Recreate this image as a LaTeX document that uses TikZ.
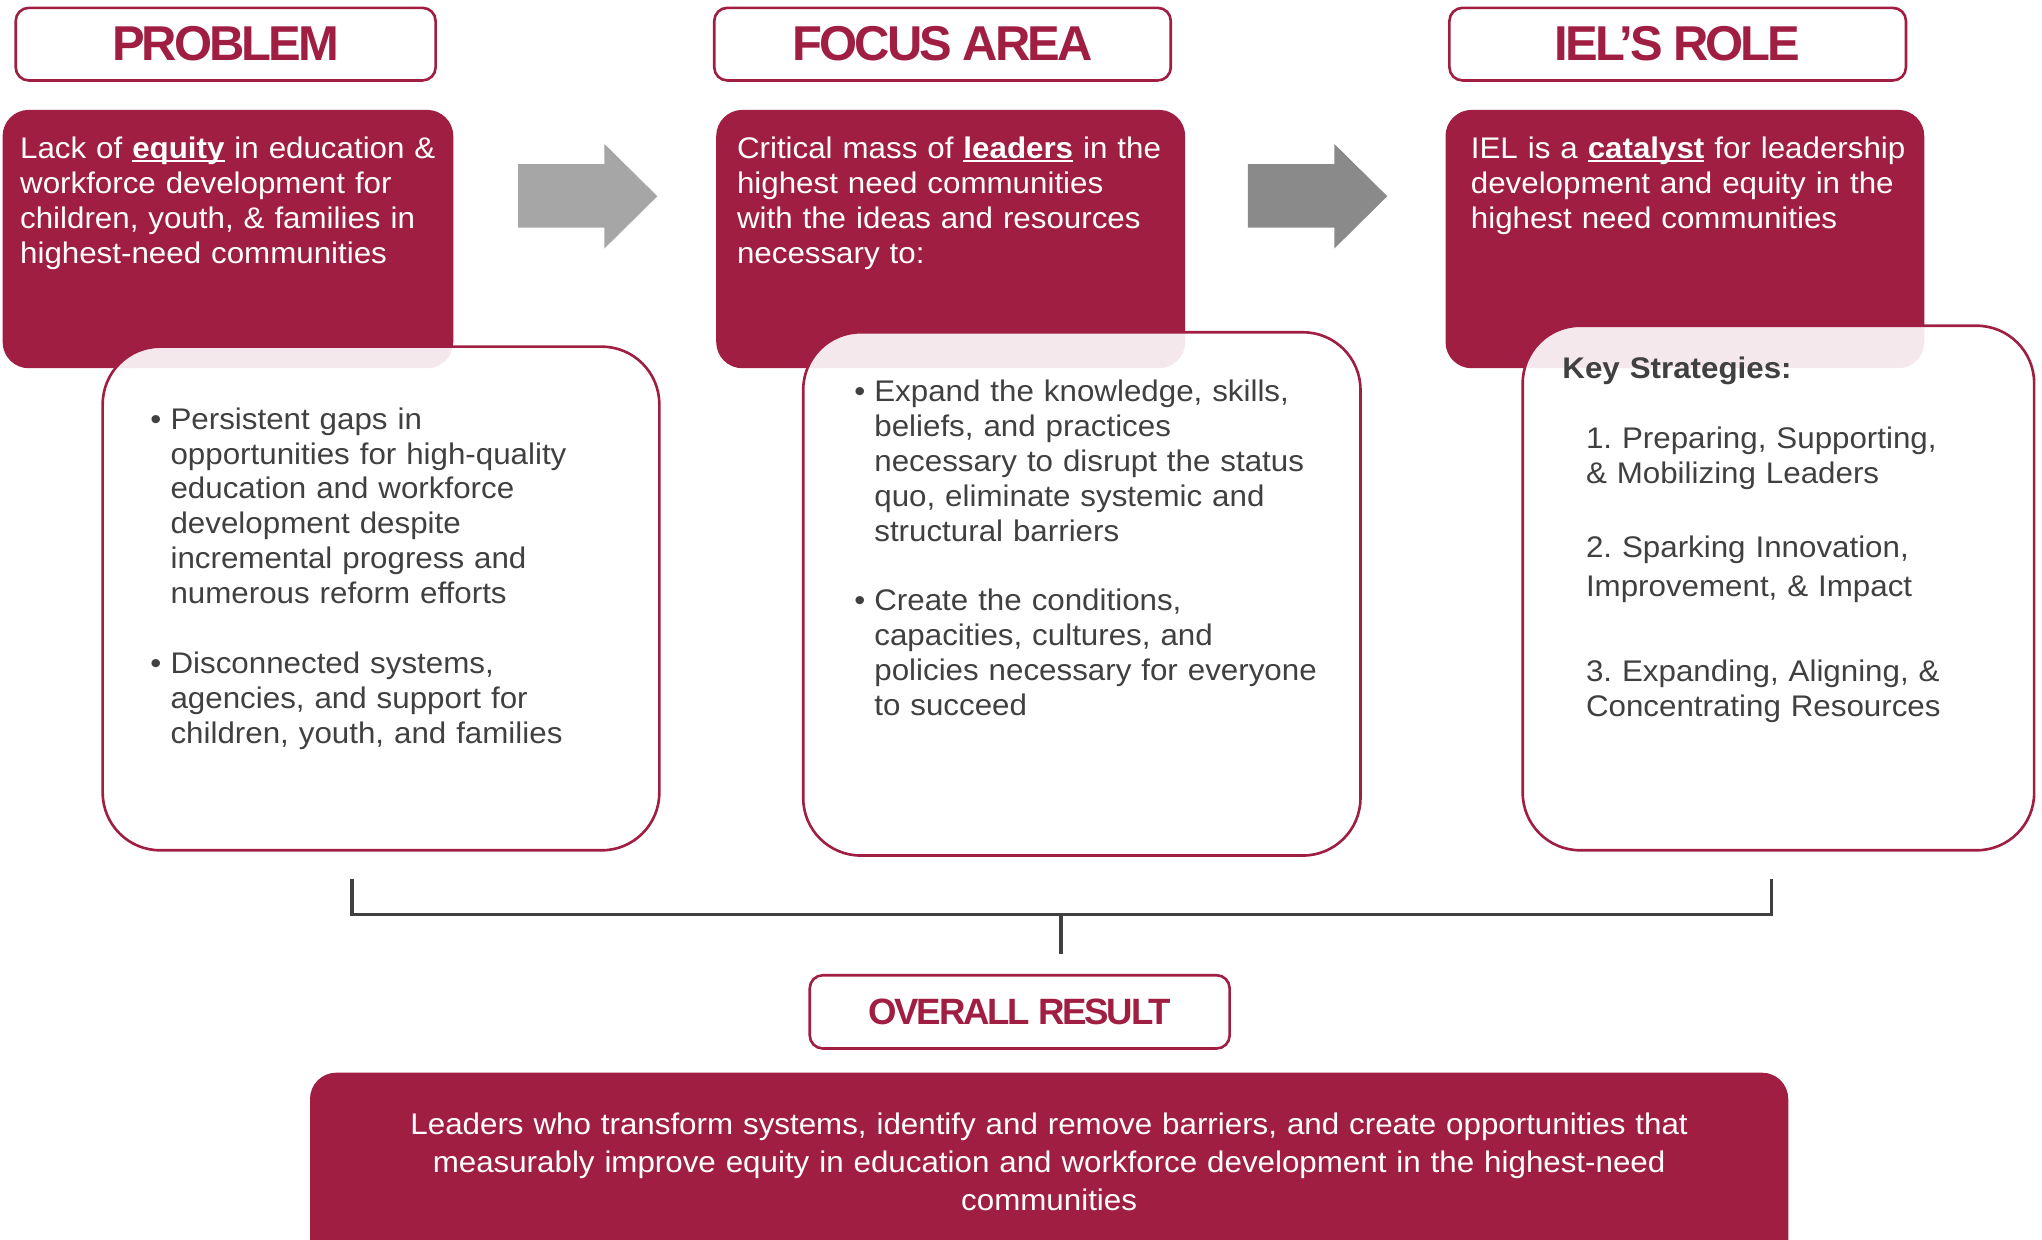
\documentclass[tikz,border=0pt]{standalone}
\usepackage{fontspec}
\setmainfont{Liberation Sans}[FakeStretch=1.05]
\newfontfamily\headfont{Liberation Sans}[LetterSpace=-6]
\frenchspacing
\definecolor{iel}{RGB}{160,30,66}
\definecolor{ink}{RGB}{64,64,64}
\definecolor{lightarrow}{RGB}{166,166,166}
\definecolor{darkarrow}{RGB}{138,138,138}
\tikzset{
	headbox/.style={draw=iel, line width=1pt, rounded corners=5pt, fill=white, text=iel, inner sep=0pt},
	redbox/.style={fill=iel, rounded corners=10pt},
	whitebox/.style={draw=iel, line width=1pt, rounded corners=22pt, fill=white, fill opacity=0.9},
	redtext/.style={text=white, align=left, text width=200pt, anchor=base west, inner sep=0pt, font=\fontsize{11.4}{13.35}\selectfont},
	greytext/.style={text=ink, align=left, text width=200pt, anchor=base west, inner sep=0pt, font=\fontsize{11.4}{13.35}\selectfont},
}
\newcommand{\keyword}[1]{{\setbox0=\hbox{\bfseries#1}\rlap{\rule[-1.5pt]{\wd0}{0.9pt}}\box0}}
\newcommand{\bulletmark}{\llap{•\hspace{3.5pt}}}
\begin{document}
\begin{tikzpicture}[x=0.5pt, y=-0.5pt]
		\useasboundingbox (0,0) rectangle (1561,947.5);
		\clip (0,0) rectangle (1561,947.5);

		\node[headbox, minimum width=160.5pt, minimum height=27.75pt, font=\headfont\bfseries\fontsize{18.7}{20}\selectfont] (problemhead) at (172.5,33.75) {PROBLEM};
		\node[headbox, minimum width=174.5pt, minimum height=27.75pt, font=\headfont\bfseries\fontsize{18.7}{20}\selectfont] (focushead) at (720.5,33.75) {FOCUS AREA};
		\node[headbox, minimum width=174.5pt, minimum height=27.75pt, font=\headfont\bfseries\fontsize{18.7}{20}\selectfont] (rolehead) at (1282.5,33.75) {IEL’S ROLE};

		\fill[redbox] (2,84) rectangle (346.5,281.5);
		\fill[redbox] (547.5,84) rectangle (906,281.5);
		\fill[redbox] (1105,84) rectangle (1471,281.5);

		\node[redtext] (lack) at (15,121) {Lack of \keyword{equity} in education \&\\workforce development for\\children, youth, \& families in\\highest-need communities};
		\node[redtext] (mass) at (563,121) {Critical mass of \keyword{leaders} in the\\highest need communities\\with the ideas and resources\\necessary to:};
		\node[redtext] (catalyst) at (1124,121) {IEL is a \keyword{catalyst} for leadership\\development and equity in the\\highest need communities};

		\fill[lightarrow] (396,125.5) -- (462,125.5) -- (462,110) -- (502.5,150) -- (462,190) -- (462,174) -- (396,174) -- cycle;
		\fill[darkarrow] (954,125.5) -- (1020,125.5) -- (1020,110) -- (1060.5,150) -- (1020,190) -- (1020,174) -- (954,174) -- cycle;

		\draw[whitebox] (78.5,265) rectangle (504,650);
		\draw[whitebox] (614,254) rectangle (1040,654);
		\draw[whitebox] (1164,249) rectangle (1555,650);

		\node[greytext] (gaps) at (130,328) {\bulletmark Persistent gaps in\\opportunities for high-quality\\education and workforce\\development despite\\incremental progress and\\numerous reform efforts};
		\node[greytext] (systems) at (130,515) {\bulletmark Disconnected systems,\\agencies, and support for\\children, youth, and families};

		\node[greytext] (expand) at (668,307) {\bulletmark Expand the knowledge, skills,\\beliefs, and practices\\necessary to disrupt the status\\quo, eliminate systemic and\\structural barriers};
		\node[greytext] (conditions) at (668,467) {\bulletmark Create the conditions,\\capacities, cultures, and\\policies necessary for everyone\\to succeed};

		\node[greytext] (keys) at (1194,289) {\bfseries Key Strategies:};
		\node[greytext] (preparing) at (1212,343) {1. Preparing, Supporting,\\\& Mobilizing Leaders};
		\node[greytext] (sparking) at (1212,426) {2. Sparking Innovation,\\[1.7pt]Improvement, \& Impact};
		\node[greytext] (aligning) at (1212,521) {3. Expanding, Aligning, \&\\Concentrating Resources};

		\coordinate (bl) at (269,672);
		\coordinate (bm) at (811,699);
		\coordinate (br) at (1354,672);
		\coordinate (stem) at (811,729);
		\draw[ink, line width=1.25pt] (bl) |- (bm) -| (br);
		\draw[ink, line width=1.25pt] (bm) -- (stem);

		\node[headbox, minimum width=160.5pt, minimum height=28pt, font=\headfont\bfseries\fontsize{14}{16}\selectfont] (resulthead) at (779.5,773.5) {OVERALL RESULT};

		\fill[redbox] (237,820) rectangle (1367,975);
		\node[text=white, align=center, text width=600pt, anchor=base, inner sep=0pt, font=\fontsize{11.4}{14.5}\selectfont] (outcome) at (802,867) {Leaders who transform systems, identify and remove barriers, and create opportunities that\\measurably improve equity in education and workforce development in the highest-need\\communities};
	\end{tikzpicture}
\end{document}
